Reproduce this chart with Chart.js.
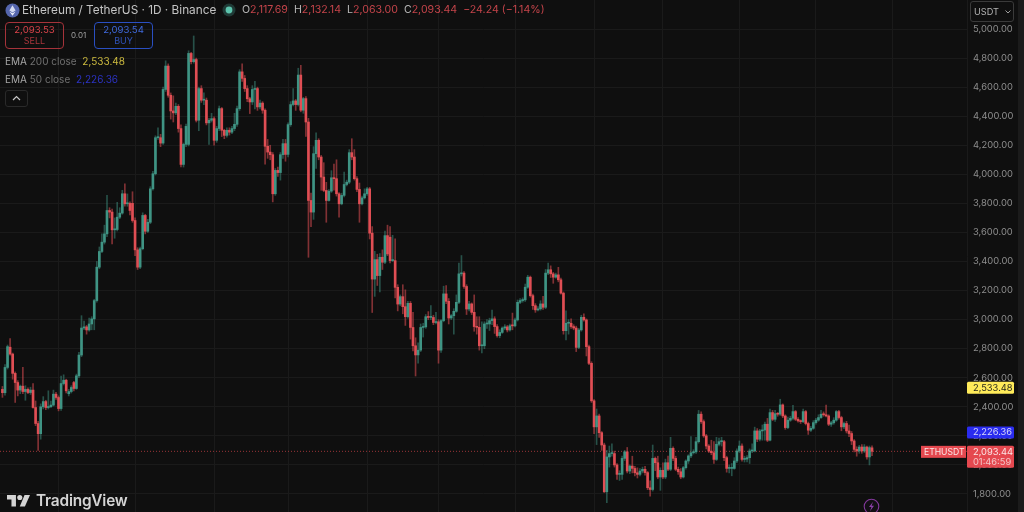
<!DOCTYPE html>
<html>
<head>
<meta charset="utf-8">
<title>ETHUSDT</title>
<script src="https://cdn.jsdelivr.net/npm/chart.js@4"></script>
<style>
  html, body { margin: 0; padding: 0; background: #0f0f0f; }
  body { width: 1024px; height: 512px; overflow: hidden; position: relative; font-family: Inter, "Noto Sans", sans-serif; }
  canvas { position: absolute; left: 0; top: 0; }
  .abs { position: absolute; white-space: nowrap; }
  .title { left: 22px; top: 2px; font-size: 11.8px; line-height: 16px; color: #c4c4c4; }
  .ohlc { left: 242px; top: 3px; font-size: 10.6px; line-height: 14px; color: #b8b8b8; }
  .ohlc b { font-weight: 400; color: #c4444a; margin-right: 3px; }
  .box { top: 22px; width: 57px; height: 24px; border: 1px solid; border-radius: 4px; text-align: center; font-size: 9.6px; line-height: 11px; padding-top: 1px; box-sizing: content-box; }
  .box span { display: block; font-size: 9px; line-height: 11px; }
  .sell { left: 5px; border-color: #a5333a; color: #d9434a; }
  .sell span { color: #a8353b; }
  .buy { left: 94px; border-color: #2a4fc2; color: #3f69dc; }
  .buy span { color: #2f52b8; }
  .spread { left: 71px; top: 30px; font-size: 8px; line-height: 11px; color: #a0a0a0; }
  .ema { left: 5px; font-size: 10px; line-height: 14px; color: #a8a8a8; }
  .ema i { font-style: normal; color: #6f6f6f; }
  .collapse { left: 5px; top: 90px; width: 21px; height: 15px; border: 1px solid #2a2a2a; border-radius: 3px; }
  .usdt { left: 970px; top: 1px; width: 42px; height: 19px; border: 1px solid #3a3a3a; border-radius: 3px; font-size: 9.2px; line-height: 19px; color: #b4b4b4; text-indent: 3px; }
  .strip { left: 1018px; top: 0; width: 6px; height: 512px; background: #1b1b1b; }
  .brand { left: 36px; top: 491px; font-size: 15.4px; line-height: 19px; font-weight: 600; color: #d4d4d4; letter-spacing: -0.2px; }
</style>
</head>
<body>
<canvas id="chart" width="1024" height="512"></canvas>
<div class="abs strip"></div>

<svg class="abs" style="left:5px;top:3px" width="15" height="15" viewBox="0 0 15 15">
  <circle cx="7.5" cy="7.5" r="7" fill="#5566ad"/>
  <path d="M7.5 2.2 4.4 7.6 7.5 9.4 10.6 7.6Z" fill="#d5dbf2"/>
  <path d="M4.4 8.4 7.5 12.8 10.6 8.4 7.5 10.2Z" fill="#eef0fa"/>
</svg>
<div class="abs title">Ethereum / TetherUS · 1D · Binance</div>
<svg class="abs" style="left:222px;top:3px" width="14" height="14" viewBox="0 0 14 14">
  <circle cx="7" cy="7" r="6.5" fill="#1f3a36"/>
  <circle cx="7" cy="7" r="3.4" fill="#5cc4ad"/>
</svg>
<div class="abs ohlc">O<b>2,117.69</b> H<b>2,132.14</b> L<b>2,063.00</b> C<b>2,093.44</b> <b>−24.24 (−1.14%)</b></div>

<div class="abs box sell">2,093.53<span>SELL</span></div>
<div class="abs spread">0.01</div>
<div class="abs box buy">2,093.54<span>BUY</span></div>

<div class="abs ema" style="top:54px">EMA <i>200 close</i> <span style="color:#cdbb3f;margin-left:3px">2,533.48</span></div>
<div class="abs ema" style="top:72px">EMA <i>50 close</i> <span style="color:#2c33c4;margin-left:3px">2,226.36</span></div>
<div class="abs collapse">
  <svg style="display:block;margin:4px auto 0" width="9" height="6" viewBox="0 0 9 6"><path d="M1 5 4.5 1.5 8 5" fill="none" stroke="#c8c8c8" stroke-width="1.2"/></svg>
</div>

<div class="abs usdt">USDT
  <svg style="position:absolute;left:34px;top:8px" width="6" height="4" viewBox="0 0 6 4"><path d="M.5.5 3 3 5.5.5" fill="none" stroke="#a0a0a0"/></svg>
</div>

<svg class="abs" style="left:7px;top:495px" width="23" height="11.5" viewBox="0 0 36 18">
  <path d="M14 18H7V7H0V0h14z" fill="#d4d4d4"/>
  <circle cx="20" cy="4" r="4" fill="#d4d4d4"/>
  <path d="M28 18h-8l7.5-18H36z" fill="#d4d4d4"/>
</svg>
<div class="abs brand">TradingView</div>

<svg class="abs" style="left:863px;top:498px" width="17" height="14" viewBox="0 0 17 14">
  <circle cx="8.5" cy="8.5" r="7.3" fill="#120f14" stroke="#83399c" stroke-width="1.1"/>
  <path d="M10 3.8 6 9h2.4L7 13.2 11 7.8H8.6Z" fill="#8a3fa6"/>
</svg>

<script>
const opens = [
  2520, 2497, 2671, 2810, 2763, 2630, 2567, 2515, 2542, 2505,
  2520, 2498, 2515, 2395, 2285, 2215, 2400, 2436, 2395, 2400,
  2412, 2487, 2464, 2388, 2560, 2583, 2490, 2505, 2567, 2526,
  2613, 2756, 2942, 2950, 2929, 2970, 3005, 3131, 3361, 3469,
  3533, 3590, 3751, 3740, 3618, 3620, 3705, 3733, 3866, 3797,
  3800, 3800, 3682, 3480, 3361, 3488, 3717, 3608, 3670, 3900,
  4004, 4252, 4252, 4215, 4584, 4745, 4544, 4436, 4423, 4468,
  4315, 4068, 4206, 4206, 4832, 4775, 4790, 4372, 4590, 4510,
  4510, 4354, 4372, 4383, 4234, 4315, 4452, 4303, 4268, 4303,
  4290, 4315, 4344, 4452, 4705, 4660, 4590, 4520, 4498, 4584,
  4590, 4464, 4490, 4441, 4193, 4153, 4135, 3866, 4027, 4012,
  4135, 4211, 4137, 4342, 4480, 4505, 4480, 4683, 4441, 4521,
  4360, 3820, 3740, 4142, 4234, 4119, 3981, 3889, 3820, 3884,
  3976, 3970, 3866, 3797, 3855, 3930, 3946, 4149, 4119, 3970,
  3896, 3797, 3838, 3866, 3900, 3595, 3279, 3413, 3303, 3429,
  3395, 3578, 3567, 3406, 3406, 3222, 3107, 3158, 3089, 3020,
  3112, 2946, 2820, 2757, 2790, 2946, 2950, 3020, 3015, 3015,
  2980, 2985, 2790, 2993, 3177, 3126, 3011, 3027, 3057, 3119,
  3315, 3320, 3228, 3073, 3108, 3050, 2952, 2947, 2820, 2820,
  2970, 2970, 2993, 3005, 2952, 2890, 2912, 2942, 2950, 2929,
  2958, 2957, 2998, 3119, 3131, 3136, 3223, 3292, 3165, 3096,
  3067, 3074, 3108, 3085, 3320, 3343, 3315, 3292, 3308, 3274,
  3182, 2924, 2975, 2975, 2952, 2942, 2809, 2929, 3016, 2998,
  2814, 2699, 2441, 2262, 2337, 2222, 2137, 1815, 2055, 2078,
  2078, 2000, 1935, 1935, 2045, 2090, 1958, 1992, 1976, 1946,
  1935, 1958, 1970, 1947, 1843, 1831, 2045, 2015, 1917, 1963,
  1917, 2015, 1970, 2114, 2045, 1970, 1953, 1917, 1981, 2027,
  2062, 2084, 2090, 2160, 2349, 2298, 2200, 2130, 2095, 2084,
  2038, 2142, 2160, 2160, 2050, 1976, 1976, 1976, 2027, 2096,
  2130, 2038, 2040, 2050, 2096, 2096, 2234, 2177, 2234, 2240,
  2280, 2170, 2360, 2314, 2353, 2349, 2413, 2337, 2257, 2308,
  2321, 2367, 2314, 2303, 2298, 2367, 2285, 2239, 2252, 2291,
  2308, 2326, 2349, 2345, 2337, 2280, 2290, 2308, 2367, 2326,
  2262, 2285, 2234, 2216, 2165, 2107, 2096, 2123, 2096, 2123,
  2055, 2117.69
];
const highs = [
  2540, 2690, 2825, 2869, 2770, 2640, 2580, 2550, 2671, 2545,
  2530, 2535, 2560, 2440, 2300, 2420, 2470, 2445, 2510, 2440,
  2515, 2500, 2475, 2612, 2620, 2590, 2520, 2545, 2575, 2625,
  2775, 3027, 2990, 2960, 3010, 3020, 3140, 3400, 3500, 3590,
  3650, 3855, 3770, 3760, 3700, 3807, 3770, 3890, 3935, 3865,
  3810, 3880, 3700, 3495, 3500, 3735, 3725, 3690, 3915, 4020,
  4265, 4320, 4275, 4600, 4781, 4760, 4560, 4540, 4490, 4480,
  4340, 4215, 4345, 4850, 4840, 4952, 4800, 4600, 4610, 4560,
  4525, 4385, 4420, 4395, 4330, 4470, 4460, 4310, 4320, 4320,
  4330, 4420, 4470, 4720, 4760, 4680, 4610, 4530, 4610, 4640,
  4600, 4510, 4500, 4450, 4240, 4200, 4150, 4040, 4050, 4150,
  4240, 4240, 4355, 4500, 4590, 4515, 4730, 4750, 4530, 4535,
  4385, 3870, 4190, 4285, 4245, 4130, 4080, 3945, 3895, 4025,
  4070, 4100, 3875, 3870, 4015, 3960, 4170, 4245, 4170, 3985,
  3940, 3850, 3900, 3910, 3910, 3640, 3470, 3450, 3455, 3480,
  3610, 3650, 3640, 3580, 3556, 3240, 3170, 3240, 3205, 3125,
  3125, 3050, 2875, 2840, 2970, 2975, 3035, 3055, 3096, 3030,
  3050, 3000, 3000, 3230, 3235, 3145, 3035, 3075, 3170, 3389,
  3441, 3330, 3240, 3125, 3115, 3170, 3020, 3020, 2985, 2985,
  3000, 3010, 3065, 3020, 2965, 2930, 2950, 2965, 2960, 2970,
  3045, 3010, 3135, 3145, 3150, 3245, 3305, 3300, 3175, 3110,
  3090, 3130, 3160, 3345, 3389, 3370, 3325, 3320, 3360, 3285,
  3190, 3060, 3000, 3005, 2965, 2955, 2940, 3030, 3040, 3005,
  2825, 2710, 2450, 2385, 2350, 2230, 2150, 2100, 2130, 2145,
  2095, 2010, 1960, 2060, 2100, 2120, 2000, 2060, 1990, 1980,
  1975, 1985, 1990, 1955, 1890, 2137, 2055, 2060, 1980, 2015,
  2040, 2060, 2190, 2125, 2060, 1985, 1975, 1990, 2035, 2070,
  2195, 2105, 2190, 2375, 2365, 2310, 2210, 2140, 2170, 2160,
  2190, 2185, 2190, 2170, 2060, 2000, 2010, 2050, 2110, 2165,
  2145, 2060, 2065, 2110, 2145, 2260, 2250, 2245, 2275, 2295,
  2320, 2385, 2375, 2375, 2360, 2452, 2420, 2345, 2330, 2335,
  2410, 2375, 2325, 2310, 2385, 2375, 2295, 2265, 2305, 2320,
  2345, 2375, 2365, 2412, 2345, 2300, 2325, 2375, 2375, 2335,
  2295, 2300, 2275, 2230, 2175, 2125, 2135, 2140, 2140, 2130,
  2130, 2132.14
];
const lows = [
  2465, 2480, 2660, 2755, 2590, 2430, 2475, 2490, 2490, 2445,
  2490, 2485, 2390, 2270, 2100, 2177, 2385, 2380, 2385, 2395,
  2405, 2450, 2372, 2375, 2550, 2495, 2475, 2495, 2510, 2520,
  2600, 2745, 2930, 2900, 2920, 2930, 2930, 3120, 3350, 3460,
  3520, 3570, 3700, 3521, 3560, 3610, 3695, 3725, 3780, 3780,
  3720, 3670, 3440, 3345, 3350, 3480, 3590, 3600, 3660, 3890,
  3995, 4240, 4190, 4205, 4570, 4530, 4380, 4360, 4410, 4290,
  4050, 4050, 4190, 4195, 4760, 4765, 4360, 4300, 4495, 4480,
  4340, 4205, 4360, 4200, 4220, 4300, 4260, 4245, 4255, 4270,
  4280, 4300, 4330, 4440, 4640, 4570, 4500, 4418, 4480, 4450,
  4440, 4450, 4420, 4070, 4110, 4100, 3810, 3855, 3985, 3960,
  4110, 4090, 4120, 4330, 4470, 4440, 4470, 4430, 4420, 4260,
  3429, 3640, 3690, 4040, 4100, 3890, 3880, 3670, 3815, 3875,
  3890, 3850, 3705, 3790, 3845, 3920, 3935, 4100, 3960, 3880,
  3670, 3790, 3830, 3855, 3555, 3049, 3160, 3235, 3190, 3345,
  3385, 3440, 3390, 3400, 3150, 3060, 3095, 3040, 2960, 3010,
  2866, 2785, 2612, 2700, 2780, 2880, 2940, 3000, 3000, 2965,
  2970, 2700, 2775, 2985, 3110, 2970, 3000, 2900, 3050, 3110,
  3300, 3215, 3035, 3060, 3035, 2920, 2900, 2790, 2770, 2800,
  2940, 2925, 2965, 2905, 2880, 2875, 2905, 2930, 2915, 2920,
  2930, 2950, 2990, 3110, 3120, 3125, 3215, 3155, 3070, 3050,
  3060, 3065, 3070, 3075, 3310, 3290, 3250, 3285, 3260, 3175,
  2900, 2860, 2900, 2940, 2930, 2780, 2800, 2920, 2990, 2750,
  2690, 2430, 2215, 2140, 2190, 2100, 1810, 1740, 1985, 2060,
  1985, 1900, 1893, 1900, 2030, 1945, 1940, 1945, 1925, 1910,
  1925, 1945, 1930, 1830, 1785, 1820, 1960, 1905, 1825, 1905,
  1905, 1960, 1960, 2030, 1960, 1935, 1905, 1910, 1970, 2010,
  2050, 2075, 2080, 2150, 2285, 2190, 2110, 2085, 2070, 2010,
  2030, 2130, 2130, 2030, 1950, 1945, 1925, 1970, 2015, 2085,
  2025, 2020, 2020, 2010, 2085, 2090, 2160, 2165, 2170, 2170,
  2160, 2165, 2305, 2300, 2335, 2340, 2325, 2245, 2250, 2300,
  2310, 2305, 2295, 2285, 2290, 2275, 2210, 2230, 2245, 2280,
  2300, 2320, 2335, 2330, 2270, 2265, 2280, 2300, 2315, 2235,
  2250, 2220, 2195, 2140, 2090, 2060, 2080, 2080, 2085, 2040,
  2000, 2063.00
];
const closes = [
  2497, 2671, 2814, 2763, 2630, 2567, 2515, 2542, 2505, 2520,
  2498, 2515, 2395, 2285, 2215, 2400, 2436, 2395, 2400, 2412,
  2487, 2464, 2388, 2560, 2583, 2510, 2505, 2533, 2526, 2613,
  2756, 2942, 2950, 2929, 2970, 3005, 3131, 3361, 3469, 3533,
  3590, 3751, 3740, 3618, 3620, 3705, 3733, 3866, 3797, 3800,
  3751, 3682, 3480, 3361, 3488, 3717, 3608, 3670, 3900, 4004,
  4252, 4255, 4215, 4584, 4745, 4544, 4436, 4423, 4468, 4315,
  4068, 4206, 4330, 4832, 4775, 4790, 4372, 4590, 4510, 4510,
  4354, 4372, 4383, 4234, 4315, 4452, 4303, 4268, 4303, 4290,
  4315, 4344, 4452, 4705, 4660, 4590, 4520, 4498, 4584, 4590,
  4464, 4490, 4441, 4193, 4153, 4135, 3866, 4027, 4012, 4135,
  4211, 4137, 4342, 4480, 4505, 4480, 4683, 4441, 4521, 4360,
  3820, 3740, 4142, 4234, 4119, 3981, 3889, 3820, 3884, 3976,
  3970, 3866, 3797, 3855, 3930, 3946, 4149, 4119, 3970, 3896,
  3797, 3838, 3866, 3900, 3595, 3279, 3413, 3303, 3429, 3395,
  3578, 3452, 3406, 3406, 3222, 3107, 3158, 3089, 3020, 3112,
  2946, 2820, 2757, 2790, 2946, 2950, 3020, 3015, 3015, 2980,
  2985, 2790, 2993, 3177, 3126, 3011, 3027, 3057, 3119, 3315,
  3320, 3228, 3073, 3108, 3050, 2952, 2947, 2820, 2820, 2970,
  2970, 2993, 3005, 2952, 2890, 2912, 2942, 2950, 2929, 2958,
  2957, 2998, 3119, 3131, 3136, 3223, 3292, 3165, 3096, 3067,
  3074, 3108, 3085, 3320, 3343, 3315, 3292, 3308, 3274, 3182,
  2924, 2975, 2975, 2952, 2942, 2809, 2929, 3016, 2998, 2814,
  2699, 2441, 2262, 2337, 2222, 2137, 1815, 2055, 2078, 2078,
  2000, 1935, 1935, 2045, 2090, 1958, 1992, 1976, 1946, 1935,
  1958, 1970, 1947, 1843, 1831, 2045, 2015, 1917, 1963, 1917,
  2015, 1970, 2114, 2045, 1970, 1953, 1917, 1981, 2027, 2062,
  2084, 2090, 2160, 2349, 2298, 2200, 2130, 2095, 2084, 2038,
  2142, 2160, 2160, 2050, 1976, 1976, 1976, 2027, 2096, 2130,
  2038, 2040, 2050, 2096, 2096, 2234, 2177, 2234, 2240, 2280,
  2170, 2360, 2314, 2353, 2349, 2413, 2337, 2257, 2308, 2321,
  2367, 2314, 2303, 2298, 2367, 2285, 2239, 2252, 2291, 2308,
  2326, 2349, 2345, 2337, 2280, 2290, 2308, 2367, 2326, 2262,
  2285, 2234, 2216, 2165, 2107, 2096, 2123, 2096, 2123, 2055,
  2119, 2093.44
];
const priceTicks = [1800, 2000, 2200, 2400, 2600, 2800, 3000, 3200, 3400, 3600, 3800, 4000, 4200, 4400, 4600, 4800, 5000];
// candle numbers where a new month starts, these carry the vertical grid lines
const monthTicks = [22, 52, 83, 112, 143, 171, 201, 232, 259, 289, 319, 349];
const lastPrice = 2093.44;
const ema200 = 2533.48;
const ema50 = 2226.36;

const UP = '#3f9484';
const DOWN = '#e04e54';
const UP_WICK = 'rgba(63,148,132,.5)';
const DOWN_WICK = 'rgba(224,78,84,.55)';

const fmt = v => v.toLocaleString('en-US', {minimumFractionDigits: 2, maximumFractionDigits: 2});

// price tags on the right axis and the dotted last price line
const priceTags = {
  id: 'priceTags',
  beforeDatasetsDraw(chart) {
    const {ctx, chartArea, scales} = chart;
    const y = scales.y.getPixelForValue(lastPrice);
    ctx.save();
    ctx.strokeStyle = 'rgba(229,72,79,.65)';
    ctx.setLineDash([1, 2]);
    ctx.beginPath();
    ctx.moveTo(chartArea.left, y);
    ctx.lineTo(chartArea.right, y);
    ctx.stroke();
    ctx.restore();
  },
  afterDraw(chart) {
    const {ctx, chartArea, scales} = chart;
    const left = chartArea.right;
    const tag = (top, h, bg) => {
      ctx.fillStyle = bg;
      ctx.beginPath();
      ctx.roundRect(left, top, 47, h, 1.5);
      ctx.fill();
    };
    ctx.save();
    ctx.font = '9.3px Inter, "Noto Sans", sans-serif';
    ctx.textBaseline = 'middle';
    ctx.textAlign = 'left';

    const y200 = scales.y.getPixelForValue(ema200);
    tag(y200 - 5.6, 12, '#ffeb5a');
    ctx.fillStyle = '#2a2a1c';
    ctx.fillText(fmt(ema200), left + 6, y200 + 0.6);

    const y50 = scales.y.getPixelForValue(ema50);
    tag(y50 - 5.6, 12, '#2a2cf0');
    ctx.fillStyle = '#d8d8f8';
    ctx.fillText(fmt(ema50), left + 6, y50 + 0.6);

    const yLast = scales.y.getPixelForValue(lastPrice);
    tag(yLast - 5.5, 22, '#e5484f');
    ctx.fillStyle = '#fbe6e6';
    ctx.fillText(fmt(lastPrice), left + 6, yLast + 0.6);
    ctx.fillStyle = '#f5c4c6';
    ctx.fillText('01:46:59', left + 6, yLast + 11.2);

    ctx.fillStyle = '#e5484f';
    ctx.fillRect(left - 46, yLast - 5.5, 45, 12);
    ctx.font = '8.6px Inter, "Noto Sans", sans-serif';
    ctx.fillStyle = '#fbe6e6';
    ctx.fillText('ETHUSDT', left - 43, yLast + 0.6);
    ctx.restore();
  }
};

new Chart(document.getElementById('chart'), {
  type: 'bar',
  plugins: [priceTags],
  data: {
    datasets: [{
      label: 'body',
      data: closes.map((c, i) => ({x: i, y: [opens[i], c]})),
      backgroundColor: closes.map((c, i) => (c >= opens[i] ? UP : DOWN)),
      barThickness: 2,
      minBarLength: 1,
      grouped: false,
    }, {
      label: 'wick',
      data: highs.map((h, i) => ({x: i, y: [lows[i], h]})),
      backgroundColor: closes.map((c, i) => (c >= opens[i] ? UP_WICK : DOWN_WICK)),
      barThickness: 1,
      grouped: false,
    }],
  },
  options: {
    responsive: false,
    animation: false,
    devicePixelRatio: 1,
    layout: {padding: 0},
    plugins: {legend: {display: false}, tooltip: {enabled: false}},
    scales: {
      x: {
        type: 'linear',
        offset: false,
        min: -0.96,
        max: 378.25,
        afterBuildTicks: scale => { scale.ticks = monthTicks.map(value => ({value})); },
        afterFit: scale => {
          scale.height = 0;
          scale.paddingLeft = scale.paddingRight = 0;
        },
        ticks: {display: false},
        border: {display: false},
        grid: {color: '#1a1a1a', offset: false, drawTicks: false},
      },
      y: {
        position: 'right',
        min: 1676,
        max: 5199.6,
        afterBuildTicks: scale => { scale.ticks = priceTicks.map(value => ({value})); },
        afterFit: scale => {
          scale.width = 57;
          scale.paddingTop = scale.paddingBottom = 0;
        },
        ticks: {
          color: '#8e8e8e',
          padding: 6,
          font: {family: 'Inter', size: 9.4},
          callback: v => fmt(v),
        },
        border: {color: '#1a1a1a'},
        grid: {color: '#1a1a1a', drawTicks: false},
      },
    },
  },
});
</script>
</body>
</html>
